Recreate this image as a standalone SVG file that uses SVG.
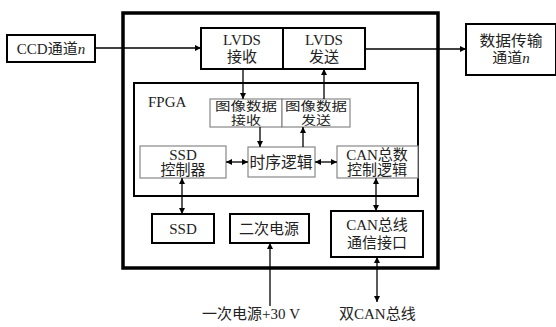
<svg xmlns="http://www.w3.org/2000/svg" width="556" height="327" viewBox="0 0 556 327">
<defs>
<marker id="ah" viewBox="0 0 10 10" refX="10" refY="5" markerWidth="6" markerHeight="6" orient="auto-start-reverse" markerUnits="userSpaceOnUse">
<path d="M0,0 L10,5 L0,10 Z" fill="#000"/>
</marker>
<style>
text{font-family:"Liberation Serif","Noto Sans CJK SC",serif;font-size:15px;fill:#222;text-anchor:middle}
.s{font-size:12px}
.b{fill:#fff;stroke:#000;stroke-width:2}
.g{fill:#fff;stroke:#888;stroke-width:1.2}
.c{fill:none;stroke:#000;stroke-width:1.3}
</style>
</defs>
<rect width="556" height="327" fill="#fff"/>
<g id="board"><rect x="123" y="13" width="315" height="255" fill="none" stroke="#000" stroke-width="3.5"/></g>
<g id="fpga"><rect x="134" y="83" width="284" height="113" fill="none" stroke="#000" stroke-width="2"/>
<text x="148" y="107" style="text-anchor:start">FPGA</text></g>
<g id="ccd"><rect class="b" x="7" y="35" width="88" height="27" stroke-width="2.5"/>
<text x="51" y="54">CCD通道<tspan font-style="italic">n</tspan></text></g>
<g id="lvds-rx"><rect class="b" x="201" y="28" width="82" height="41"/>
<text x="242" y="45">LVDS</text><text x="242" y="62">接收</text></g>
<g id="lvds-tx"><rect class="b" x="283" y="28" width="82" height="41"/>
<text x="324" y="45">LVDS</text><text x="324" y="62">发送</text></g>
<g id="out"><rect class="b" x="466" y="24" width="90" height="51"/>
<text x="511" y="46" textLength="63" lengthAdjust="spacingAndGlyphs">数据传输</text><text x="511" y="63">通道<tspan font-style="italic">n</tspan></text></g>
<g id="img-rx"><rect class="g" x="210" y="99" width="72" height="28"/>
<text class="s" x="246" y="111" textLength="62" lengthAdjust="spacingAndGlyphs">图像数据</text><text class="s" x="246" y="125" textLength="30" lengthAdjust="spacingAndGlyphs">接收</text></g>
<g id="img-tx"><rect class="g" x="282" y="99" width="68" height="28"/>
<text class="s" x="316" y="111" textLength="62" lengthAdjust="spacingAndGlyphs">图像数据</text><text class="s" x="316" y="125" textLength="30" lengthAdjust="spacingAndGlyphs">发送</text></g>
<g id="ssd-ctrl"><rect class="g" x="140" y="146" width="86" height="32"/>
<text x="183" y="160">SSD</text><text x="183" y="175">控制器</text></g>
<g id="timing"><rect class="g" x="248" y="147" width="67" height="30"/>
<text x="281" y="168" textLength="63" lengthAdjust="spacingAndGlyphs" style="font-size:16px">时序逻辑</text></g>
<g id="can-logic"><rect class="g" x="337" y="146" width="81" height="32"/>
<text x="377" y="160">CAN总数</text><text x="377" y="175">控制逻辑</text></g>
<g id="ssd"><rect class="b" x="152" y="214" width="62" height="29"/>
<text x="183" y="234">SSD</text></g>
<g id="power"><rect class="b" x="230" y="214" width="79" height="29"/>
<text x="269" y="234">二次电源</text></g>
<g id="can-if"><rect class="b" x="331" y="211" width="92" height="46"/>
<text x="377" y="230">CAN总线</text><text x="377" y="248">通信接口</text></g>
<g id="labels">
<text x="202" y="319" style="text-anchor:start">一次电源+30 V</text>
<text x="339" y="319" style="text-anchor:start">双CAN总线</text>
</g>
<g id="connectors">
<line class="c" x1="95" y1="48" x2="201" y2="48" marker-end="url(#ah)"/>
<line class="c" x1="365" y1="49" x2="466" y2="49" marker-end="url(#ah)"/>
<line class="c" x1="243" y1="69" x2="243" y2="99" marker-end="url(#ah)"/>
<line class="c" x1="324" y1="99" x2="324" y2="69" marker-end="url(#ah)"/>
<line class="c" x1="260" y1="127" x2="260" y2="147" marker-end="url(#ah)"/>
<line class="c" x1="303" y1="147" x2="303" y2="127" marker-end="url(#ah)"/>
<line class="c" x1="226" y1="162" x2="248" y2="162" marker-start="url(#ah)" marker-end="url(#ah)"/>
<line class="c" x1="315" y1="162" x2="337" y2="162" marker-start="url(#ah)" marker-end="url(#ah)"/>
<line class="c" x1="182" y1="178" x2="182" y2="214" marker-start="url(#ah)" marker-end="url(#ah)"/>
<line class="c" x1="376" y1="178" x2="376" y2="211" marker-start="url(#ah)" marker-end="url(#ah)"/>
<line class="c" x1="270" y1="306" x2="270" y2="243" marker-end="url(#ah)"/>
<line class="c" x1="377" y1="257" x2="377" y2="302" marker-start="url(#ah)" marker-end="url(#ah)"/>
</g>
</svg>
